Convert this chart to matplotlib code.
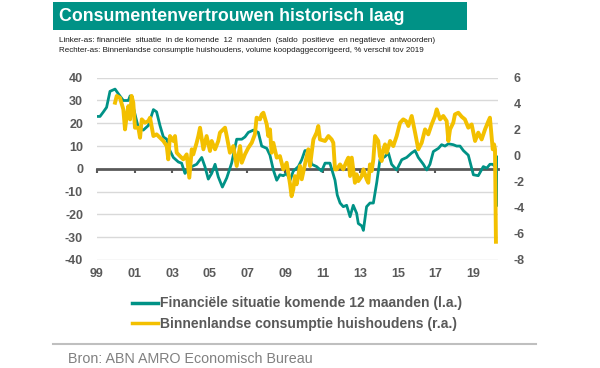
import matplotlib
matplotlib.use("Agg")
from matplotlib import pyplot as plt
from matplotlib.patches import Rectangle
from matplotlib.lines import Line2D

# financiele situatie komende 12 maanden (linker-as)
fin_jaar = [1999.0, 1999.16, 1999.34, 1999.51, 1999.69, 1999.96, 2000.13, 2000.40, 2000.67, 2000.76,
            2000.84, 2001.02, 2001.20, 2001.46, 2001.73, 2002.00, 2002.17, 2002.35, 2002.53, 2002.71,
            2002.88, 2003.06, 2003.33, 2003.50, 2003.68, 2003.86, 2004.04, 2004.30, 2004.57, 2004.74,
            2004.92, 2005.10, 2005.28, 2005.45, 2005.67, 2005.90, 2006.16, 2006.43, 2006.70, 2006.87,
            2007.05, 2007.32, 2007.58, 2007.76, 2008.03, 2008.20, 2008.38, 2008.56, 2008.73, 2008.91,
            2009.09, 2009.27, 2009.44, 2009.71, 2009.89, 2010.06, 2010.24, 2010.42, 2010.68, 2010.95,
            2011.13, 2011.39, 2011.66, 2011.78, 2011.93, 2012.10, 2012.28, 2012.46, 2012.63, 2012.81,
            2012.90, 2013.08, 2013.17, 2013.34, 2013.52, 2013.70, 2013.88, 2014.05, 2014.32, 2014.50,
            2014.67, 2014.94, 2015.21, 2015.47, 2015.74, 2015.92, 2016.09, 2016.36, 2016.54, 2016.71,
            2016.89, 2017.16, 2017.33, 2017.51, 2017.69, 2017.95, 2018.13, 2018.31, 2018.49, 2018.75,
            2019.02, 2019.28, 2019.55, 2019.73, 2019.90, 2020.05, 2020.17, 2020.26, 2020.29]
fin_saldo = [23, 23, 25, 27, 34, 35, 33, 30, 30, 32,
             30, 24, 18, 17, 19, 26, 25, 19, 14, 13,
             8, 5, 3, 2.5, -2, 0, 1, 2, 5, 1,
             -4.5, -2, 2, -3.5, -8, -4, 2.5, 13, 13, 14,
             16, 17, 16, 10, 9, 6, -0.5, -5, -2.6, -3,
             -2, -5, -1, 1, 4, 8, 8, 2, 1, -1,
             2.5, 2.5, -5, -11.5, -15, -16.6, -16, -21, -16, -19.5,
             -24, -25, -27, -16.6, -15, -15, -6, 4, 5.4, 7,
             2, -0.5, 4, 5, 7, 8, 5, 2, -0.5, 2,
             7.6, 9, 10.6, 10, 11, 10.6, 10, 10, 8, 6,
             -2.6, -3, 1, 0.3, 2, 2, 1, 5.4, -16]

# binnenlandse consumptie huishoudens (rechter-as)
cons_jaar = [1999.96, 2000.05, 2000.22, 2000.40, 2000.49, 2000.58, 2000.67, 2000.76, 2000.84, 2000.93,
             2001.02, 2001.20, 2001.29, 2001.38, 2001.55, 2001.73, 2001.82, 2002.00, 2002.17, 2002.35,
             2002.53, 2002.71, 2002.79, 2002.88, 2003.06, 2003.15, 2003.24, 2003.41, 2003.50, 2003.59,
             2003.77, 2003.91, 2004.04, 2004.12, 2004.30, 2004.39, 2004.48, 2004.66, 2004.83, 2005.01,
             2005.10, 2005.28, 2005.45, 2005.54, 2005.72, 2005.81, 2005.90, 2006.07, 2006.25, 2006.43,
             2006.61, 2006.70, 2006.87, 2007.05, 2007.23, 2007.40, 2007.49, 2007.67, 2007.76, 2007.85,
             2008.03, 2008.11, 2008.20, 2008.29, 2008.38, 2008.56, 2008.73, 2008.91, 2009.09, 2009.27,
             2009.35, 2009.44, 2009.53, 2009.62, 2009.80, 2009.89, 2010.06, 2010.24, 2010.33, 2010.51,
             2010.68, 2010.77, 2010.86, 2011.13, 2011.31, 2011.48, 2011.57, 2011.66, 2011.75, 2011.93,
             2012.10, 2012.28, 2012.37, 2012.46, 2012.55, 2012.63, 2012.72, 2012.81, 2012.90, 2013.08,
             2013.17, 2013.34, 2013.43, 2013.52, 2013.61, 2013.70, 2013.79, 2013.96, 2014.05, 2014.14,
             2014.23, 2014.32, 2014.41, 2014.59, 2014.76, 2014.94, 2015.12, 2015.29, 2015.44, 2015.56,
             2015.74, 2015.92, 2016.09, 2016.27, 2016.45, 2016.62, 2016.80, 2016.98, 2017.07, 2017.25,
             2017.42, 2017.60, 2017.69, 2017.78, 2017.95, 2018.04, 2018.22, 2018.40, 2018.57, 2018.75,
             2018.93, 2019.11, 2019.28, 2019.46, 2019.64, 2019.82, 2019.90, 2019.99, 2020.05, 2020.12,
             2020.17, 2020.22]
cons_pct = [4.08, 4.6, 4.46, 3.57, 2.03, 3.06, 3.82, 2.8, 4.6, 4.08,
            2.16, 2.16, 1.39, 2.8, 2.54, 2.67, 2.93, 1.52, 1.65, 1.39,
            1.14, 0.75, -0.27, 1.52, 1.14, 1.52, 0.24, -0.02, -0.14, -0.27,
            0.11, -1.68, 0.5, 0.11, 1.0, 1.52, 2.16, 0.5, 1.52, 0.37,
            1.14, 0.5, 1.14, 1.78, 2.03, 2.16, 1.52, 0.24, 0.75, -0.78,
            0.75, -0.53, 0.11, 0.62, 1.0, 1.65, 2.93, 2.8, 3.18, 3.31,
            2.41, 1.52, 2.03, 0.24, 1.0, -0.14, -0.02, -1.04, -0.53, -2.19,
            -3.1, -2.58, -1.56, -2.19, -0.78, -1.8, -0.66, 0.5, -0.78, 1.26,
            1.78, 2.29, 1.26, 1.14, 1.52, 1.26, 1.0, -1.04, -1.04, -0.66,
            -1.04, -0.4, -0.14, -1.55, -0.14, -1.04, -2.07, -1.42, -1.94, -1.55,
            -1.04, -1.8, -2.07, -0.66, -1.17, -0.27, 1.52, 1.14, -0.02, -0.4,
            0.5, 0.88, 0.24, 1.14, 0.75, 1.52, 2.54, 2.8, 2.67, 2.29,
            3.06, 1.78, 0.5, 1.0, 2.03, 1.65, 2.41, 3.06, 3.57, 2.8,
            3.06, 2.67, 1.14, 2.03, 2.54, 3.18, 3.31, 3.0, 2.8, 2.16,
            2.41, 1.14, 1.78, 1.26, 2.03, 2.67, 2.93, 1.52, 0.5, 0.88,
            0.5, -6.6]

jaar_ticks = list(range(1999, 2020, 2))
jaar_labels = ['%02d' % (j % 100) for j in jaar_ticks]

groen = '#009286'
geel = '#F3C000'
grijs = '#595959'
plt.rcParams['font.family'] = ['Liberation Sans', 'DejaVu Sans']
plt.rcParams['axes.unicode_minus'] = False

fig = plt.figure(figsize=(6, 3.68), dpi=100)

# titelbalk
fig.patches.append(Rectangle((53/600, 1-30/368), 414/600, 28/368, transform=fig.transFigure,
                             facecolor=groen, edgecolor='none'))
fig.text(59/600, 1-16.5/368, 'Consumentenvertrouwen historisch laag', color='white',
         fontsize=12.8, fontweight='bold', va='center', ha='left')
fig.text(59/600, 1-40.5/368,
         'Linker-as: financiële  situatie  in de komende  12  maanden  (saldo  positieve  en negatieve  antwoorden)',
         fontsize=5.85, va='center', ha='left', color='#1a1a1a')
fig.text(59/600, 1-51/368,
         'Rechter-as: Binnenlandse consumptie huishoudens, volume koopdaggecorrigeerd, % verschil tov 2019',
         fontsize=5.75, va='center', ha='left', color='#1a1a1a')

ax = fig.add_axes([97/600, 1-260/368, 401/600, 182.3/368])
ax2 = ax.twinx()

ax.set_xlim(1999, 2020.33)
ax.set_ylim(-40, 40)
ax2.set_ylim(-8, 6)
ax.set_yticks(range(-40, 41, 10))
ax2.set_yticks(range(-8, 7, 2))
for y in range(-40, 41, 10):
    if y != 0:
        ax.axhline(y, color='#d9d9d9', lw=1, zorder=0)

for a in (ax, ax2):
    for s in ('top', 'right', 'left', 'bottom'):
        a.spines[s].set_visible(False)
    a.tick_params(axis='y', length=0, labelsize=9, labelcolor=grijs)
    for lbl in a.get_yticklabels():
        lbl.set_fontweight('bold')
ax.tick_params(axis='y', pad=10)
ax2.tick_params(axis='y', pad=11)

# nullijn met jaartikken
ax.spines['bottom'].set_visible(True)
ax.spines['bottom'].set_position(('data', 0))
ax.spines['bottom'].set_color(grijs)
ax.spines['bottom'].set_linewidth(2)
ax.spines['bottom'].set_zorder(1)
ax.set_xticks(jaar_ticks)
ax.tick_params(axis='x', direction='out', length=3, width=1.5, color=grijs, labelbottom=False)

sec = ax.secondary_xaxis(0)
sec.set_xticks(jaar_ticks)
sec.set_xticklabels(jaar_labels, fontweight='bold', color=grijs, fontsize=9)
sec.tick_params(axis='x', length=0, pad=6)
sec.spines['bottom'].set_visible(False)

ax.plot(fin_jaar, fin_saldo, color=groen, lw=2, zorder=3)
ax2.plot(cons_jaar, cons_pct, color=geel, lw=2.8, zorder=2)
ax.set_zorder(ax2.get_zorder() - 1)
ax2.patch.set_visible(False)

h1 = Line2D([], [], color=groen, lw=2.5)
h2 = Line2D([], [], color=geel, lw=2.5)
fig.legend([h1, h2], ['Financiële situatie komende 12 maanden (l.a.)',
                      'Binnenlandse consumptie huishoudens (r.a.)'],
           loc='upper left', bbox_to_anchor=(119/600, 1-284/368), frameon=False,
           handlelength=1.9, handletextpad=0.15, labelspacing=0.45,
           prop={'weight': 'bold', 'size': 10}, labelcolor=grijs)

fig.add_artist(Line2D([53/600, 536/600], [1-344/368, 1-344/368], color='#bfbfbf', lw=1.5))
fig.text(68/600, 1-359/368, 'Bron: ABN AMRO Economisch Bureau', fontsize=10.3, color='#808080',
         va='center', ha='left')

fig.savefig('out.png', dpi=100)
